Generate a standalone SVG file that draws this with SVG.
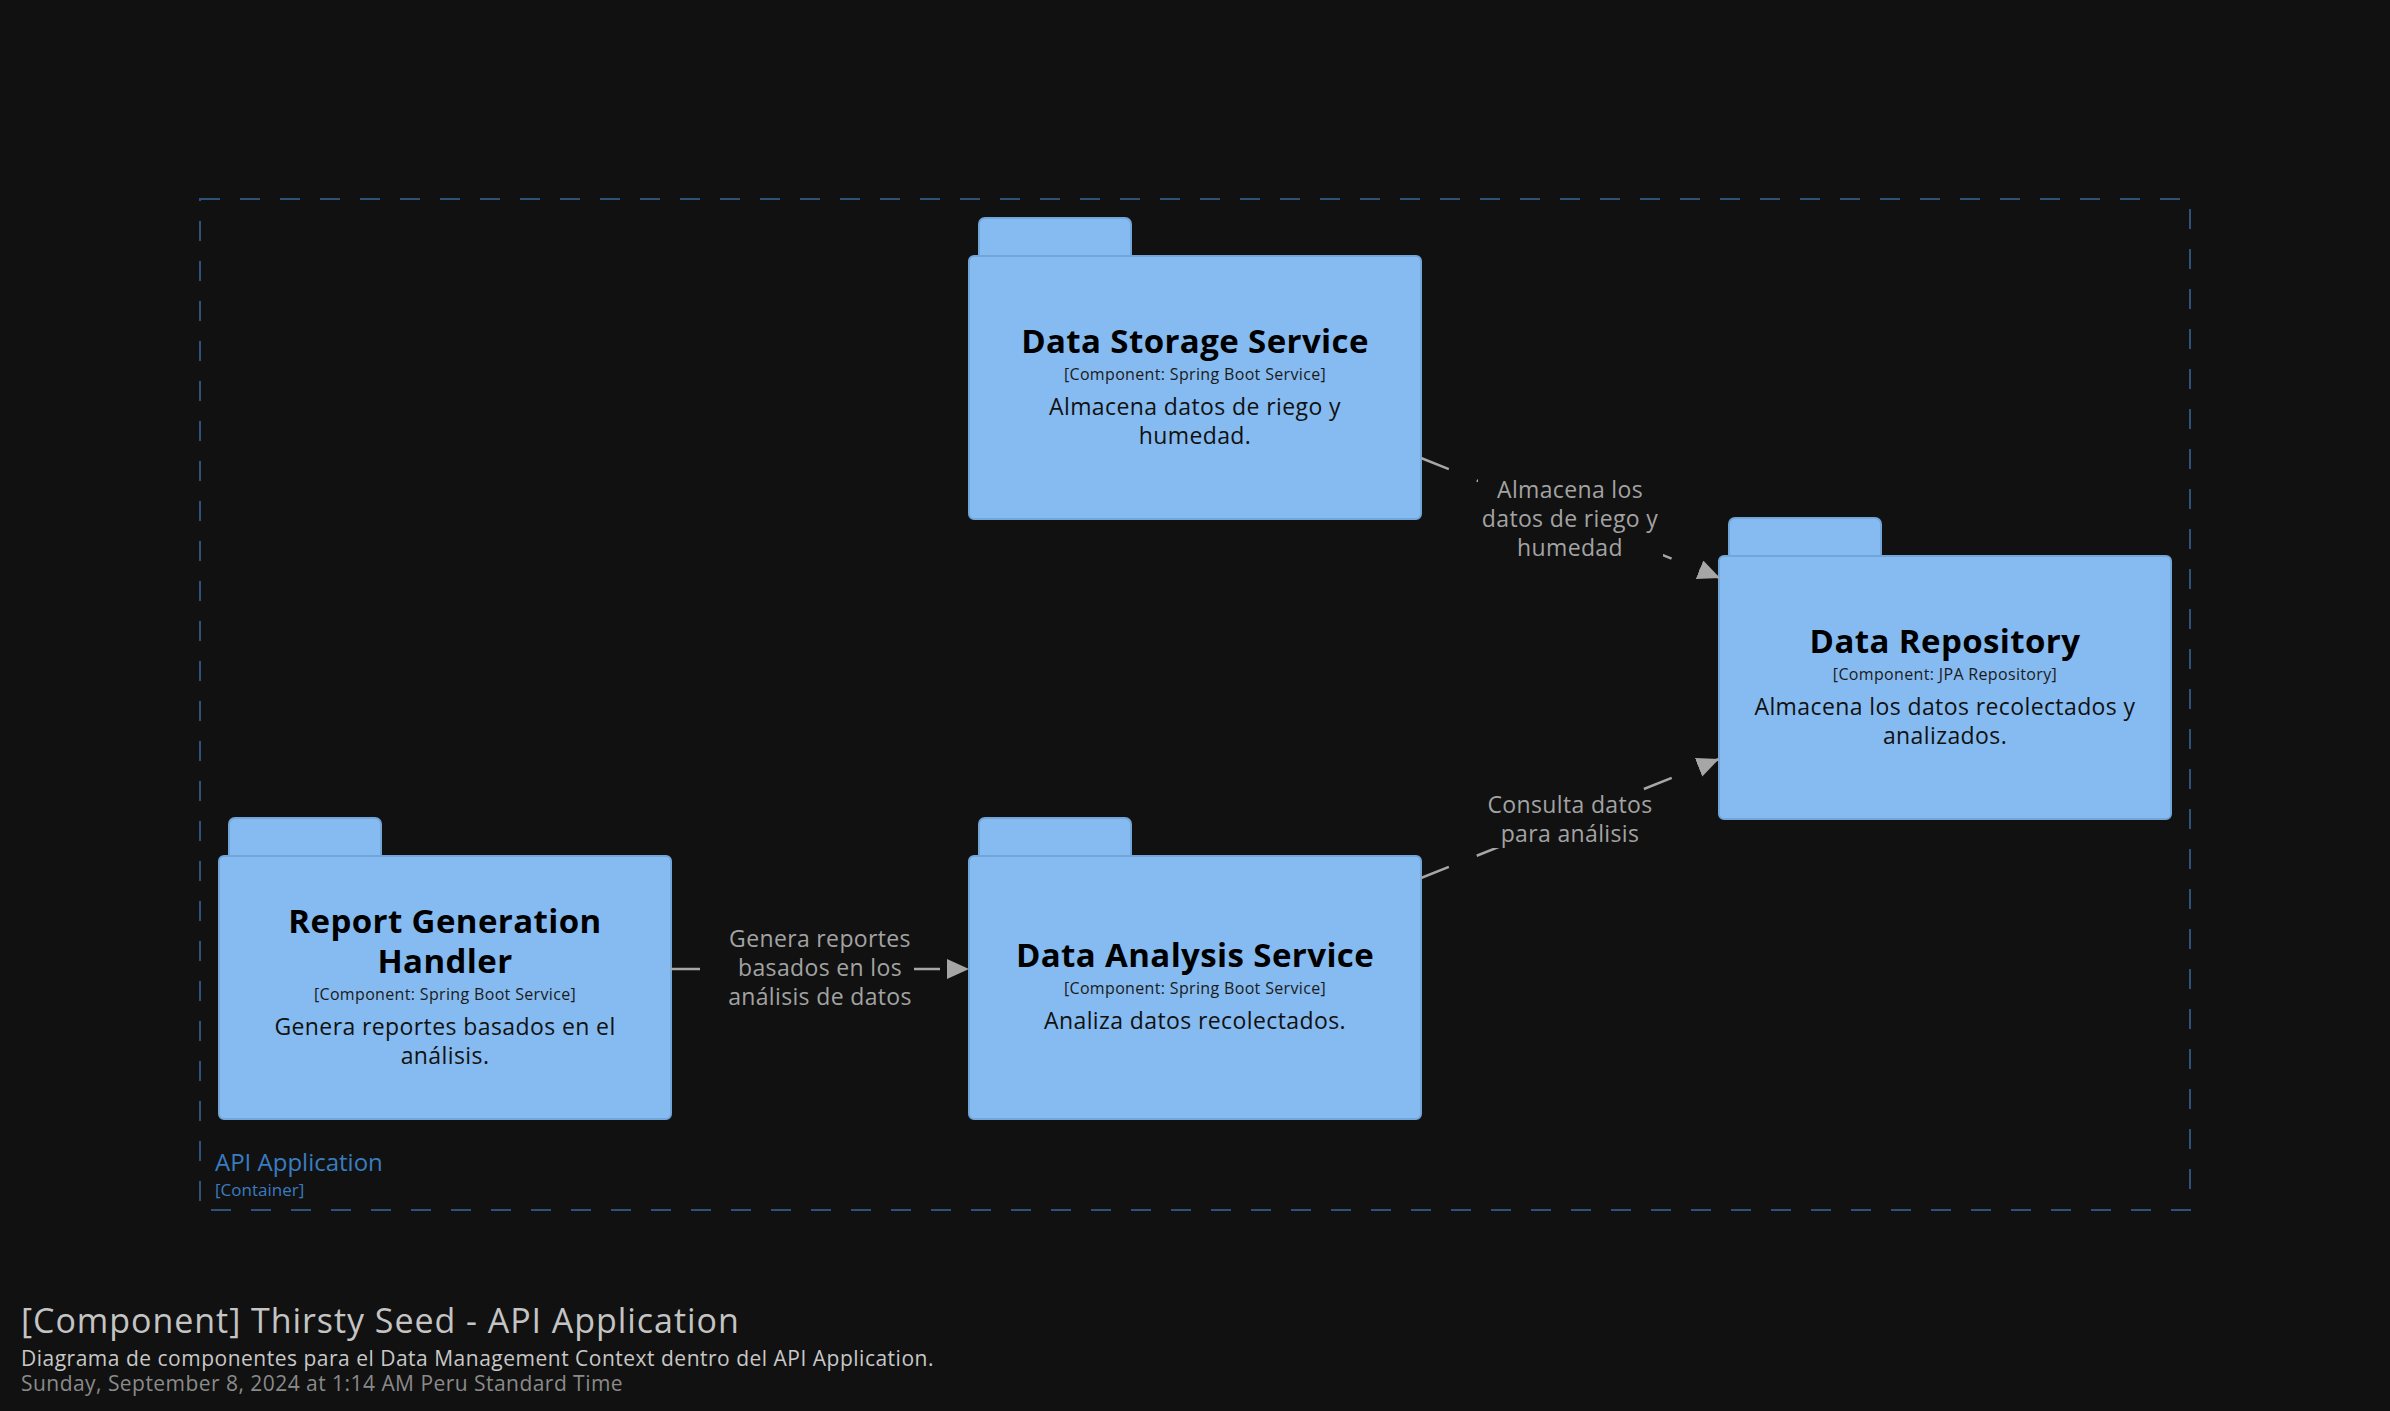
<svg xmlns="http://www.w3.org/2000/svg" width="2390" height="1411" viewBox="0 0 2390 1411">
<defs>
<style>
.node rect{fill:#85bbf0;stroke:#72a5d8;stroke-width:2}
.name{font-family:"Open Sans","Liberation Sans",sans-serif;font-weight:bold;font-size:33px;letter-spacing:0.4px;fill:#000;text-anchor:middle}
.meta{font-family:"Open Sans","Liberation Sans",sans-serif;font-size:16px;letter-spacing:0.34px;fill:#1a1a1a;text-anchor:middle}
.desc{font-family:"Open Sans","Liberation Sans",sans-serif;font-size:23px;letter-spacing:0.4px;fill:#111;text-anchor:middle}
.edge{stroke:#a6a6a6;stroke-width:2.5;fill:none;stroke-dasharray:30 30;marker-end:url(#arrow)}
.lblbg{fill:#111111}
.lbl{font-family:"Open Sans","Liberation Sans",sans-serif;font-size:23px;letter-spacing:0.35px;fill:#a3a3a3;text-anchor:middle}
</style>
<marker id="arrow" markerUnits="userSpaceOnUse" markerWidth="24" markerHeight="22" refX="22" refY="10" orient="auto">
<path d="M0,0 L22,10 L0,20 z" fill="#a6a6a6"/>
</marker>
</defs>
<rect x="0" y="0" width="2390" height="1411" fill="#111111"/>
<g id="container-api-application">
<rect x="200" y="199" width="1990" height="1011" fill="none" stroke="#2e5279" stroke-width="2" stroke-dasharray="20 20"/>
<text x="215" y="1171" font-family="'Open Sans','Liberation Sans',sans-serif" font-size="24" fill="#3a7cc0">API Application</text>
<text x="215" y="1196" font-family="'Open Sans','Liberation Sans',sans-serif" font-size="17" fill="#3a7cc0">[Container]</text>
</g>
<g id="node-data-storage-service" class="node">
<rect x="979" y="218" width="152" height="46" rx="6"/>
<rect x="969" y="256" width="452" height="263" rx="5"/>
<text class="name" x="1195" y="353">Data Storage Service</text>
<text class="meta" x="1195" y="380">[Component: Spring Boot Service]</text>
<text class="desc" x="1195" y="415">Almacena datos de riego y</text>
<text class="desc" x="1195" y="444">humedad.</text>
</g>
<g id="node-data-repository" class="node">
<rect x="1729" y="518" width="152" height="46" rx="6"/>
<rect x="1719" y="556" width="452" height="263" rx="5"/>
<text class="name" x="1945" y="653">Data Repository</text>
<text class="meta" x="1945" y="680">[Component: JPA Repository]</text>
<text class="desc" x="1945" y="715">Almacena los datos recolectados y</text>
<text class="desc" x="1945" y="744">analizados.</text>
</g>
<g id="node-report-generation-handler" class="node">
<rect x="229" y="818" width="152" height="46" rx="6"/>
<rect x="219" y="856" width="452" height="263" rx="5"/>
<text class="name" x="445" y="933"><tspan x="445" y="933">Report Generation</tspan><tspan x="445" y="973">Handler</tspan></text>
<text class="meta" x="445" y="1000">[Component: Spring Boot Service]</text>
<text class="desc" x="445" y="1035">Genera reportes basados en el</text>
<text class="desc" x="445" y="1064">análisis.</text>
</g>
<g id="node-data-analysis-service" class="node">
<rect x="979" y="818" width="152" height="46" rx="6"/>
<rect x="969" y="856" width="452" height="263" rx="5"/>
<text class="name" x="1195" y="967">Data Analysis Service</text>
<text class="meta" x="1195" y="994">[Component: Spring Boot Service]</text>
<text class="desc" x="1195" y="1029">Analiza datos recolectados.</text>
</g>
<g id="connectors">
<line class="edge" x1="1421" y1="458" x2="1720" y2="578"/>
<rect class="lblbg" x="1478" y="478" width="185" height="85"/>
<text class="lbl" x="1570" y="498">Almacena los</text>
<text class="lbl" x="1570" y="527">datos de riego y</text>
<text class="lbl" x="1570" y="556">humedad</text>
<line class="edge" x1="1421" y1="878" x2="1719" y2="759"/>
<rect class="lblbg" x="1486" y="794" width="168" height="54"/>
<text class="lbl" x="1570" y="813">Consulta datos</text>
<text class="lbl" x="1570" y="842">para análisis</text>
<line class="edge" x1="670" y1="969" x2="969" y2="969"/>
<rect class="lblbg" x="724" y="928" width="190" height="84"/>
<text class="lbl" x="820" y="947">Genera reportes</text>
<text class="lbl" x="820" y="976">basados en los</text>
<text class="lbl" x="820" y="1005">análisis de datos</text>
</g>
<g id="title-block">
<text x="21" y="1333" font-family="'Open Sans','Liberation Sans',sans-serif" font-size="34" letter-spacing="0.95" fill="#c4c4c4">[Component] Thirsty Seed - API Application</text>
<text x="21" y="1366" font-family="'Open Sans','Liberation Sans',sans-serif" font-size="21" letter-spacing="0.5" fill="#c8c8c8">Diagrama de componentes para el Data Management Context dentro del API Application.</text>
<text x="21" y="1391" font-family="'Open Sans','Liberation Sans',sans-serif" font-size="21" letter-spacing="0.46" fill="#8a8a8a">Sunday, September 8, 2024 at 1:14 AM Peru Standard Time</text>
</g>
</svg>
